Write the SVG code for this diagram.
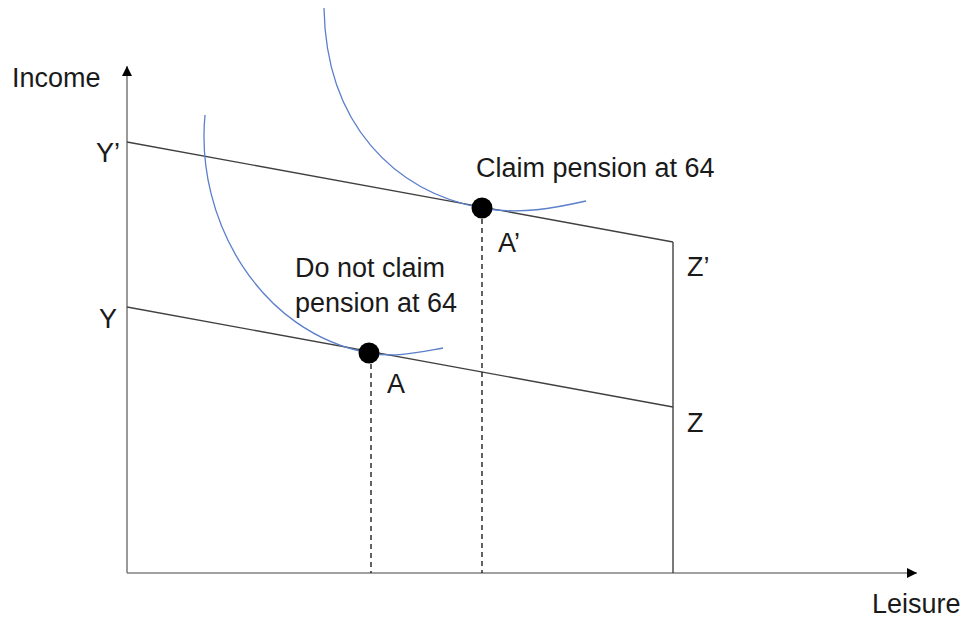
<svg xmlns="http://www.w3.org/2000/svg" width="967" height="622" viewBox="0 0 967 622">
<style>
text{font-family:"Liberation Sans",Arial,sans-serif;font-size:27px;fill:#1a1a1a}
.ax{stroke:#808080;stroke-width:1.6;fill:none}
.bl{stroke:#404040;stroke-width:1.4;fill:none}
.dash{stroke:#202020;stroke-width:1.4;stroke-dasharray:5,4;fill:none}
.ic{stroke:#5b7fcb;stroke-width:1.3;fill:none}
</style>
<defs>
<marker id="arr" viewBox="0 0 10 10" refX="10" refY="5" markerWidth="10" markerHeight="10" markerUnits="userSpaceOnUse" orient="auto">
<path d="M0,0 L10,5 L0,10 Z" fill="#000"/>
</marker>
</defs>
<rect width="967" height="622" fill="#fff"/>
<g id="connectors">
<line class="ax" x1="127" y1="573" x2="127" y2="66" marker-end="url(#arr)"/>
<line class="ax" x1="127" y1="573" x2="917" y2="573" marker-end="url(#arr)"/>
<line class="bl" x1="127" y1="142" x2="673" y2="242"/>
<line class="bl" x1="127" y1="307" x2="673" y2="407"/>
<line class="bl" x1="673" y1="242" x2="673" y2="573"/>
<line class="dash" x1="482" y1="210" x2="482" y2="573"/>
<line class="dash" x1="371" y1="355" x2="371" y2="573"/>
<path class="ic" d="M324,8 C326,125 395,192 482,208 C520,215 555,208 586,201"/>
<path class="ic" d="M205,115 C195,220 260,333 369,353 C395,358 420,352 443,348"/>
</g>
<g id="axis-labels">
<text x="12" y="87">Income</text>
<text x="872" y="613">Leisure</text>
<text x="96" y="162">Y’</text>
<text x="99" y="328">Y</text>
<text x="687" y="276">Z’</text>
<text x="687" y="432">Z</text>
</g>
<g id="point-Aprime">
<circle cx="482" cy="208" r="10.5" fill="#000"/>
<text x="476" y="177">Claim pension at 64</text>
<text x="498" y="252">A’</text>
</g>
<g id="point-A">
<circle cx="369" cy="353" r="10.5" fill="#000"/>
<text x="295" y="277">Do not claim</text>
<text x="295" y="312">pension at 64</text>
<text x="387" y="393">A</text>
</g>
</svg>
